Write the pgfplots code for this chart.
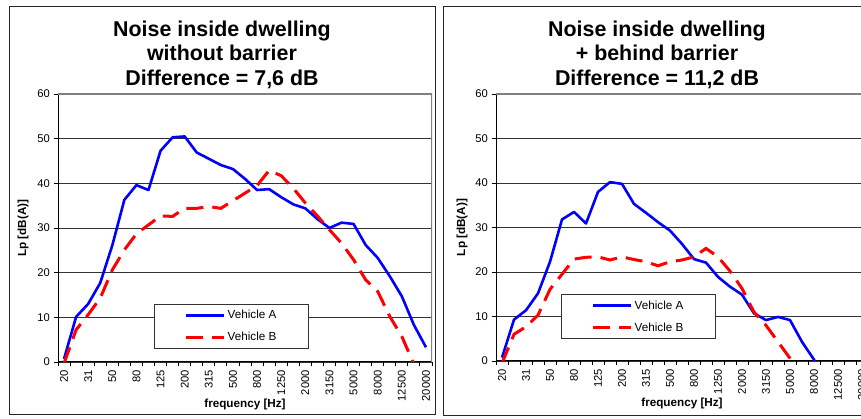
\documentclass[border=0pt]{standalone}
\usepackage{pgfplots}
\pgfplotsset{compat=1.18}
\usepackage{pgfplotstable}
\usepackage{fontspec}
\setmainfont{Liberation Sans}

\pgfplotstableread{
i A B
0 0.7 -0.3
1 10.1 7.2
2 13.0 10.6
3 17.7 14.3
4 26.1 20.6
5 36.3 25.1
6 39.6 28.7
7 38.5 30.7
8 47.3 32.7
9 50.3 32.6
10 50.5 34.4
11 46.9 34.4
12 45.5 34.8
13 44.1 34.4
14 43.2 36.1
15 41.0 37.8
16 38.5 39.5
17 38.7 42.9
18 36.9 41.7
19 35.3 38.9
20 34.4 35.6
21 32.0 32.7
22 30.0 29.6
23 31.2 26.6
24 30.9 22.9
25 26.2 18.4
26 23.3 15.8
27 19.2 10.2
28 14.7 5.7
29 8.3 -0.5
30 3.3 -8
}\leftdata

\pgfplotstableread{
i A B
0 0.75 -0.5
1 9.3 6.0
2 11.4 7.7
3 15.2 10.3
4 22.3 16.1
5 31.8 19.5
6 33.5 22.9
7 30.9 23.3
8 38.0 23.4
9 40.2 22.7
10 39.8 23.4
11 35.3 22.8
12 33.3 22.3
13 31.2 21.4
14 29.3 22.3
15 26.3 22.7
16 22.9 23.4
17 22.1 25.3
18 18.9 23.4
19 16.7 20.2
20 14.9 16.3
21 10.7 11.0
22 9.2 8.0
23 9.9 4.3
24 9.2 0.6
25 4.3 -4
26 0.3 -8
27 -6 -12
28 -12 -16
29 -18 -20
30 -24 -24
}\rightdata

\pgfplotsset{
  panel/.style={
    scale only axis, anchor=south west,
    xmin=-0.5, xmax=30.5, ymin=0, ymax=60,
    axis x line*=bottom, axis y line*=left,
    axis line style={black, line width=1pt},
    xtick={0,2,...,30},
    xticklabels={20,31,50,80,125,200,315,500,800,1250,2000,3150,5000,8000,12500,20000},
    minor xtick={-0.5,0.5,...,30.5},
    ytick={0,10,...,60},
    minor ytick={0,10,...,60},
    major tick length=0pt, minor tick length=4.5pt,
    tick align=outside,
    tick style={black, line width=0.9pt},
    ymajorgrids, grid style={black!80, line width=0.8pt},
    xticklabel style={rotate=90, anchor=east, inner xsep=8pt, inner ysep=1pt, font=\fontsize{11.2}{13}\selectfont},
    yticklabel style={inner xsep=8pt, font=\fontsize{11.2}{13}\selectfont},
    /pgf/number format/assume math mode=true,
    label style={font=\bfseries\fontsize{11.7}{13}\selectfont},
    xlabel={frequency [Hz]},
    ylabel={Lp [dB(A)]},
    xlabel style={at={(axis description cs:0.5,-0.16)}, anchor=center},
    legend image code/.code={\draw[##1] (0pt,0pt) -- (38pt,0pt);},
    legend cell align=left,
    legend style={anchor=south west, draw=black!80, line width=1.1pt, fill=white,
      inner xsep=30pt, inner ysep=4pt, row sep=8pt,
      font=\fontsize{11.7}{13}\selectfont, nodes={inner sep=2pt}},
  },
  lineA/.style={draw={rgb,255:red,0;green,0;blue,255}, line width=2.6pt, line join=round},
  lineB/.style={draw={rgb,255:red,255;green,0;blue,0}, line width=3pt, dash pattern=on 17pt off 9pt},
}

\begin{document}
\begin{tikzpicture}
\useasboundingbox (0,0) rectangle (861pt,419pt);
\clip (0,0) rectangle (861pt,419pt);
\fill[white] (0,0) rectangle (861pt,419pt);
% panel borders
\draw[black!85, line width=1pt] (9pt,4pt) rectangle (435pt,412pt);
\draw[black!85, line width=1pt] (443pt,3pt) rectangle (900pt,412pt);
% titles
\node[align=center, font=\bfseries\fontsize{21.4}{24.5}\selectfont] at (222pt,364.5pt)
  {Noise inside dwelling\\without barrier\\Difference = 7,6 dB};
\node[align=center, font=\bfseries\fontsize{21.4}{24.5}\selectfont] at (657pt,364.5pt)
  {Noise inside dwelling\\+ behind barrier\\Difference = 11,2 dB};

\begin{axis}[panel, at={(58pt,57pt)}, width=374pt, height=268pt,
  ylabel style={at={(axis description cs:-0.0936,0.5)}, anchor=center},
  legend style={at={(axis description cs:0.257,0.0485)}}]
  \addplot[lineA] table[x=i,y=A] {\leftdata};
  \addplot[lineB] table[x=i,y=B] {\leftdata};
  \legend{Vehicle A, Vehicle B}
  \draw[gray, line width=1.6pt] (rel axis cs:0,1) -- (rel axis cs:1,1) -- (rel axis cs:1,0);
\end{axis}

\begin{axis}[panel, at={(496pt,58pt)}, width=372pt, height=267pt,
  ylabel style={at={(axis description cs:-0.0914,0.5)}, anchor=center},
  legend style={at={(axis description cs:0.175,0.082)}}]
  \addplot[lineA] table[x=i,y=A] {\rightdata};
  \addplot[lineB] table[x=i,y=B] {\rightdata};
  \legend{Vehicle A, Vehicle B}
  \draw[gray, line width=1.6pt] (rel axis cs:0,1) -- (rel axis cs:1,1) -- (rel axis cs:1,0);
\end{axis}
\end{tikzpicture}
\end{document}
